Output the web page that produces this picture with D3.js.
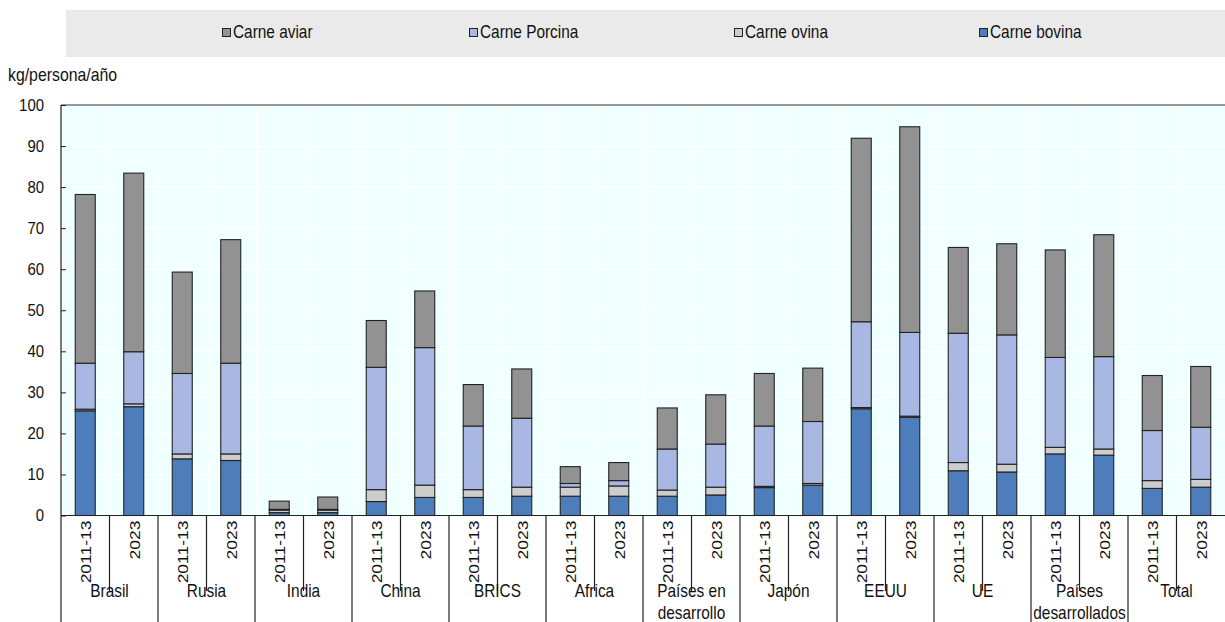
<!DOCTYPE html>
<html><head><meta charset="utf-8">
<script src="https://cdn.jsdelivr.net/npm/d3@7"></script>
<style>
html,body{margin:0;padding:0;background:#fff;}
svg{display:block;}
text{font-family:"Liberation Sans Narrow","Arial Narrow","Liberation Sans",Arial,sans-serif;fill:#111;}
</style></head>
<body><svg id="chart" width="1225" height="622"></svg>
<script>
const groups = ["Brasil","Rusia","India","China","BRICS","Africa","Países en desarrollo","Japón","EEUU","UE","Países desarrollados","Total"];
const groupLines = [["Brasil"],["Rusia"],["India"],["China"],["BRICS"],["Africa"],["Países en","desarrollo"],["Japón"],["EEUU"],["UE"],["Países","desarrollados"],["Total"]];
const years = ["2011-13","2023"];
const seriesNames = ["Carne bovina","Carne ovina","Carne Porcina","Carne aviar"];
const legendOrder = ["Carne aviar","Carne Porcina","Carne ovina","Carne bovina"];
const yTicks = [0,10,20,30,40,50,60,70,80,90,100];
// values per bar: group-major, [2011-13, 2023]
const bovina  = [25.5,26.5, 13.8,13.4, 0.7,0.7, 3.4,4.4, 4.4,4.7, 4.7,4.7, 4.7,5.0, 6.8,7.4, 26.0,23.9, 10.9,10.6, 15.0,14.7, 6.6,6.9];
const ovina   = [0.4,0.7, 1.2,1.6, 0.6,0.6, 2.9,3.0, 1.9,2.2, 2.2,2.5, 1.5,1.9, 0.3,0.4, 0.3,0.3, 2.0,1.9, 1.6,1.5, 1.9,1.9];
const porcina = [11.2,12.7, 19.6,22.1, 0.2,0.2, 29.8,33.5, 15.5,16.8, 0.9,1.3, 10.0,10.5, 14.7,15.1, 20.9,20.4, 31.5,31.5, 21.9,22.5, 12.2,12.7];
const aviar   = [41.1,43.5, 24.7,30.1, 2.0,3.0, 11.4,13.8, 10.1,12.0, 4.1,4.4, 10.0,12.0, 12.8,13.0, 44.7,50.1, 20.9,22.2, 26.2,29.7, 13.4,14.8];

const colors = {"Carne bovina":"#4D7EBB","Carne ovina":"#CDCDCD","Carne Porcina":"#A8B8E2","Carne aviar":"#929292"};

const rows = [];
groups.forEach((g,gi)=>years.forEach((y,yi)=>{
  const i = gi*2+yi;
  rows.push({group:g, year:y, "Carne bovina":bovina[i], "Carne ovina":ovina[i], "Carne Porcina":porcina[i], "Carne aviar":aviar[i]});
}));

const svg = d3.select("#chart");
const L=61, R=1225, T=105, B=515.5;
const SX = 0.88; // horizontal condensing of text
const narrow = (x)=>`translate(${x},0) scale(${SX},1) translate(${-x},0)`;

const x0 = d3.scaleBand().domain(groups).range([L,R]).padding(0);
const x1 = d3.scaleBand().domain(years).range([0,x0.bandwidth()]).padding(0);
const y = d3.scaleLinear().domain([0,100]).range([B,T]);
const barW = 20;

// legend
svg.append("rect").attr("x",66).attr("y",10).attr("width",1159).attr("height",47).attr("fill","#EAEAEA");
const legX = [222,469,734,979];
legendOrder.forEach((n,i)=>{
  const gx = svg.append("g").attr("transform",`translate(${legX[i]},0)`);
  gx.append("rect").attr("x",0.5).attr("y",28.5).attr("width",8).attr("height",8).attr("fill",colors[n]).attr("stroke","#222").attr("stroke-width",1);
  gx.append("text").attr("x",11).attr("y",38).attr("font-size",17.5).attr("transform",narrow(11)).text(n);
});

// unit label
svg.append("text").attr("x",8).attr("y",81).attr("font-size",18).attr("transform",narrow(8)).text("kg/persona/año");

// plot background
svg.append("rect").attr("x",L).attr("y",T).attr("width",R-L).attr("height",B-T).attr("fill","#F0FFFF");
// gridlines
const grid = svg.append("g").attr("stroke","#FFFFFF").attr("stroke-width",1.2);
yTicks.forEach(t=>{ if(t>0 && t<100) grid.append("line").attr("x1",L).attr("x2",R).attr("y1",y(t)).attr("y2",y(t)); });
groups.forEach(g=>years.forEach(yr=>{
  const xx = x0(g)+x1(yr)+x1.bandwidth();
  if(xx<R-1) grid.append("line").attr("x1",xx+1.5).attr("x2",xx+1.5).attr("y1",T).attr("y2",B);
}));

// bars
const stack = d3.stack().keys(seriesNames);
const stacked = stack(rows);
const barsG = svg.append("g");
stacked.forEach(s=>{
  barsG.selectAll(null).data(s).enter().append("rect")
    .attr("x",d=>x0(d.data.group)+x1(d.data.year)+x1.bandwidth()/2-barW/2)
    .attr("y",d=>y(d[1]))
    .attr("width",barW)
    .attr("height",d=>Math.max(0,y(d[0])-y(d[1])))
    .attr("fill",colors[s.key])
    .attr("stroke","#222").attr("stroke-width",1.1);
});

// frame lines
svg.append("line").attr("x1",L).attr("x2",R).attr("y1",T).attr("y2",T).attr("stroke","#333").attr("stroke-width",1.2);
svg.append("line").attr("x1",L).attr("x2",R).attr("y1",B).attr("y2",B).attr("stroke","#222").attr("stroke-width",1.2);
svg.append("line").attr("x1",L).attr("x2",L).attr("y1",T).attr("y2",622).attr("stroke","#222").attr("stroke-width",1.2);

// y axis
const yAxis = d3.axisLeft(y).tickValues(yTicks).tickSize(-5).tickPadding(17).tickFormat(d3.format("d"));
const ya = svg.append("g").attr("transform",`translate(${L},0)`).call(yAxis);
ya.select(".domain").remove();
ya.selectAll(".tick line").attr("stroke","#222");
ya.selectAll(".tick text").attr("font-size",17).attr("fill","#111")
  .style("font-family",'"Liberation Sans Narrow","Arial Narrow","Liberation Sans",Arial,sans-serif')
  .attr("transform",function(){ const xx=+this.getAttribute("x"); return narrow(xx); });

// category axis: separators
groups.forEach((g,gi)=>{
  const gx = x0(g);
  if(gi>0) svg.append("line").attr("x1",gx).attr("x2",gx).attr("y1",B).attr("y2",622).attr("stroke","#222").attr("stroke-width",1.2);
  const mid = gx + x1("2023");
  svg.append("line").attr("x1",mid).attr("x2",mid).attr("y1",B).attr("y2",591).attr("stroke","#222").attr("stroke-width",1.2);
  years.forEach(yr=>{
    const cx = gx + x1(yr) + x1.bandwidth()/2;
    svg.append("text").attr("transform",`translate(${cx+6},${B+5}) rotate(-90) scale(1,${SX})`)
      .attr("text-anchor","end").attr("font-size",17.5).text(yr);
  });
  const lines = groupLines[gi];
  const cxg = gx+x0.bandwidth()/2;
  lines.forEach((ln,li)=>{
    svg.append("text").attr("x",cxg).attr("y",597+li*22).attr("text-anchor","middle").attr("font-size",17.5)
      .attr("transform",narrow(cxg)).text(ln);
  });
});
</script>
</body></html>
